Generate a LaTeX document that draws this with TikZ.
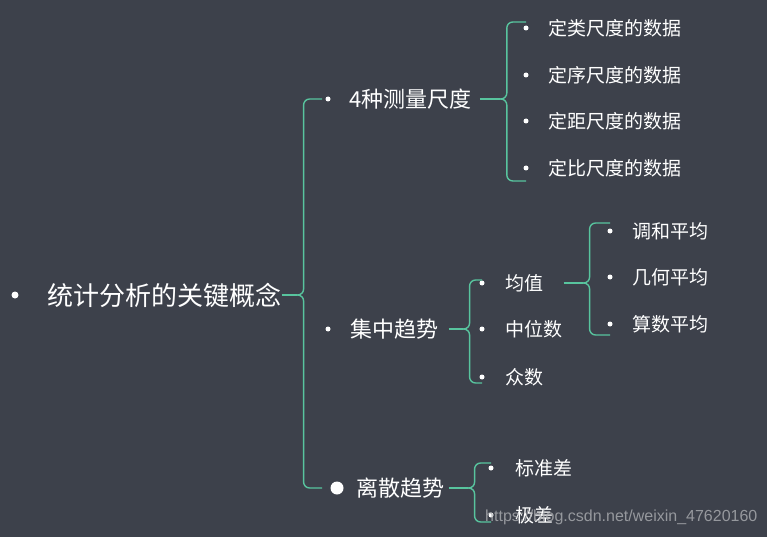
\documentclass[tikz,border=0pt]{standalone}
\usepackage{fontspec}
\newfontfamily\cjk{Noto Sans CJK SC}
\setsansfont{Liberation Sans}
\usetikzlibrary{positioning}

\definecolor{bgc}{RGB}{61,65,75}
\definecolor{linkc}{RGB}{88,196,158}
\definecolor{markc}{RGB}{172,174,178}

\tikzset{
  leaf/.style={anchor=west, inner sep=0pt, text=white, font=\cjk\fontsize{19}{19}\selectfont},
  branch/.style={leaf, font=\cjk\fontsize{22}{22}\selectfont},
  rootnode/.style={leaf, font=\cjk\fontsize{26}{26}\selectfont},
  bul/.style={circle, fill=white, inner sep=0pt, minimum size=5pt},
  link/.style={draw=linkc, line width=1.4pt, rounded corners=6pt},
}

\begin{document}
\begin{tikzpicture}[x=1pt, y=-1pt]
	\fill[bgc] (0,0) rectangle (767,537);
	\useasboundingbox (0,0) rectangle (767,537);

	% root
	\node[bul, minimum size=7pt] (b-root) at (15,295) {};
	\node[rootnode, right=28.5pt of b-root] (root) {统计分析的关键概念};

	% level 1
	\node[bul] (b-cd) at (328,99) {};
	\node[branch, right=18.5pt of b-cd] (cd) {4种测量尺度};
	\node[bul] (b-jz) at (328,329) {};
	\node[branch, right=19.5pt of b-jz] (jz) {集中趋势};
	\node[bul, minimum size=13pt] (b-ls) at (337,488) {};
	\node[branch, right=12.5pt of b-ls] (ls) {离散趋势};

	% 4种测量尺度
	\node[bul] (b-dl) at (526,28) {};
	\node[leaf, right=19.5pt of b-dl] (dl) {定类尺度的数据};
	\node[bul] (b-dx) at (526,75) {};
	\node[leaf, right=19.5pt of b-dx] (dx) {定序尺度的数据};
	\node[bul] (b-dj) at (526,121) {};
	\node[leaf, right=19.5pt of b-dj] (dj) {定距尺度的数据};
	\node[bul] (b-db) at (526,168) {};
	\node[leaf, right=19.5pt of b-db] (db) {定比尺度的数据};

	% 集中趋势
	\node[bul] (b-jun) at (482,283) {};
	\node[leaf, right=20.5pt of b-jun] (jun) {均值};
	\node[bul] (b-zw) at (482,329) {};
	\node[leaf, right=20.5pt of b-zw] (zw) {中位数};
	\node[bul] (b-zs) at (482,377) {};
	\node[leaf, right=20.5pt of b-zs] (zs) {众数};

	% 均值
	\node[bul] (b-th) at (610,231) {};
	\node[leaf, right=19.5pt of b-th] (th) {调和平均};
	\node[bul] (b-jh) at (610,277) {};
	\node[leaf, right=19.5pt of b-jh] (jh) {几何平均};
	\node[bul] (b-ss) at (610,324) {};
	\node[leaf, right=19.5pt of b-ss] (ss) {算数平均};

	% 离散趋势
	\node[bul] (b-bz) at (491,468) {};
	\node[leaf, right=21.5pt of b-bz] (bz) {标准差};
	\node[bul] (b-jc) at (491,515) {};
	\node[leaf, right=21.5pt of b-jc] (jc) {极差};

	% braces
	\coordinate (t-root) at ([xshift=15]root.east);
	\draw[link] (root.east) -- (t-root);
	\draw[link] ([xshift=-6]b-cd.center) -| ([xshift=7]t-root) -- (t-root);
	\draw[link] (t-root) -- ([xshift=7]t-root) |- ([xshift=-15]b-ls.center);

	\coordinate (t-cd) at ([xshift=28]cd.east);
	\draw[link] ([xshift=8]cd.east) -- (t-cd);
	\draw[link] ([yshift=6]b-dl.center) -| ([xshift=7]t-cd) -- (t-cd);
	\draw[link] (t-cd) -- ([xshift=7]t-cd) |- ([yshift=-13]b-db.center);

	\coordinate (t-jz) at ([xshift=24]jz.east);
	\draw[link] ([xshift=10]jz.east) -- (t-jz);
	\draw[link] ([yshift=3]b-jun.center) -| ([xshift=7]t-jz) -- (t-jz);
	\draw[link] (t-jz) -- ([xshift=7]t-jz) |- ([yshift=-6]b-zs.center);

	\coordinate (t-jun) at ([xshift=39]jun.east);
	\draw[link] ([xshift=20]jun.east) -- (t-jun);
	\draw[link] ([yshift=8]b-th.center) -| ([xshift=7]t-jun) -- (t-jun);
	\draw[link] (t-jun) -- ([xshift=7]t-jun) |- ([yshift=-11]b-ss.center);

	\coordinate (t-ls) at ([xshift=23]ls.east);
	\draw[link] ([xshift=4]ls.east) -- (t-ls);
	\draw[link] ([yshift=5]b-bz.center) -| ([xshift=7]t-ls) -- (t-ls);
	\draw[link] (t-ls) -- ([xshift=7]t-ls) |- ([yshift=-7]b-jc.center);

	% watermark
	\node[anchor=west, inner sep=0pt, text=markc, opacity=.8, font=\sffamily\fontsize{16}{16}\selectfont] (mark) at (485,517) {https://blog.csdn.net/weixin\_47620160};
\end{tikzpicture}
\end{document}
